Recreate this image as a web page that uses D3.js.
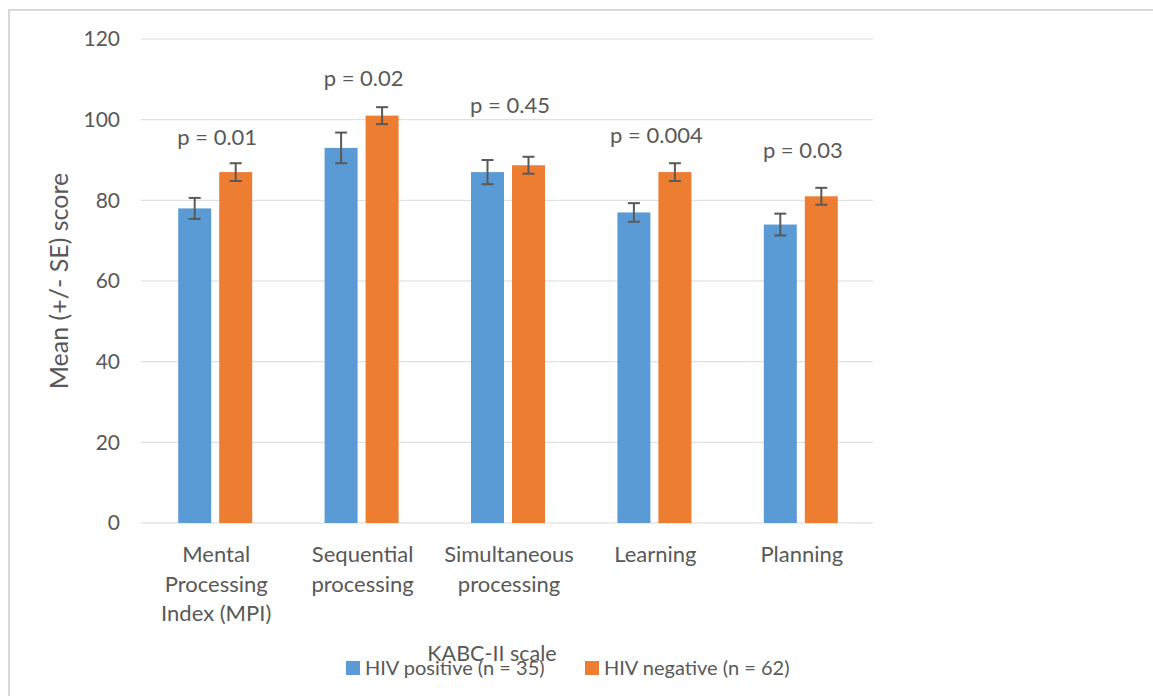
<!DOCTYPE html>
<html>
<head>
<meta charset="utf-8">
<script src="https://cdn.jsdelivr.net/npm/d3@7"></script>
<style>
  html, body { margin: 0; padding: 0; background: #fff; }
  svg { display: block; font-family: Lato, "Open Sans", sans-serif; }
</style>
</head>
<body>
<svg id="chart" width="1153" height="696"></svg>
<script>
const categories = [
  ["Mental", "Processing", "Index (MPI)"],
  ["Sequential", "processing"],
  ["Simultaneous", "processing"],
  ["Learning"],
  ["Planning"]
];
const categoryKeys = ["MPI", "Sequential", "Simultaneous", "Learning", "Planning"];
const seriesNames = ["HIV positive (n = 35)", "HIV negative (n = 62)"];
const hivPositive = [78, 93, 87, 77, 74];
const hivPositiveSE = [2.6, 3.8, 3.0, 2.3, 2.7];
const hivNegative = [87, 101, 88.7, 87, 81];
const hivNegativeSE = [2.2, 2.1, 2.1, 2.2, 2.1];
const pValues = ["p = 0.01", "p = 0.02", "p = 0.45", "p = 0.004", "p = 0.03"];
const pLabelValues = [93.7, 108.4, 101.7, 94.2, 90.5];
const yTicks = [0, 20, 40, 60, 80, 100, 120];
const colors = ["#5b9bd5", "#ed7d31"];

(function () {
const svg = d3.select("#chart");
const textColor = "#595959";

// outer frame
svg.append("rect").attr("x", 9).attr("y", 10).attr("width", 1200).attr("height", 760)
  .attr("fill", "none").attr("stroke", "#d9d9d9").attr("stroke-width", 2);

const pLeft = 141, pRight = 873, pTop = 39, pBottom = 523;
const y = d3.scaleLinear().domain([0, 120]).range([pBottom, pTop]);
const x0 = d3.scaleBand().domain(categoryKeys).range([pLeft, pRight]);
const groupW = 74;
const x1 = d3.scaleBand().domain([0, 1])
  .range([(x0.bandwidth() - groupW) / 2 + 1, (x0.bandwidth() + groupW) / 2 + 1])
  .paddingInner(8 / 41).paddingOuter(0);

// gridlines
svg.append("g").selectAll("line").data(yTicks).join("line")
  .attr("x1", pLeft).attr("x2", pRight)
  .attr("y1", d => y(d)).attr("y2", d => y(d))
  .attr("stroke", "#d9d9d9").attr("stroke-width", 1);

// y axis labels
const yAxis = d3.axisLeft(y).tickValues(yTicks).tickSize(0).tickPadding(0);
const ya = svg.append("g").attr("transform", `translate(${pLeft - 21},0)`).call(yAxis);
ya.select(".domain").remove();
ya.selectAll("text").attr("fill", textColor).attr("font-size", 21)
  .attr("font-family", "Lato, 'Open Sans', sans-serif");

// y title
svg.append("text").attr("transform", `translate(68,${(pTop + pBottom) / 2}) rotate(-90)`)
  .attr("text-anchor", "middle").attr("font-size", 25).attr("fill", textColor)
  .text("Mean (+/- SE) score");

const seriesVals = [hivPositive, hivNegative];
const seriesSE = [hivPositiveSE, hivNegativeSE];

const groups = svg.append("g").selectAll("g").data(categoryKeys).join("g")
  .attr("transform", d => `translate(${x0(d)},0)`);

groups.each(function(key, i) {
  const g = d3.select(this);
  [0, 1].forEach(s => {
    const v = seriesVals[s][i], se = seriesSE[s][i];
    g.append("rect")
      .attr("x", x1(s)).attr("width", x1.bandwidth())
      .attr("y", y(v)).attr("height", y(0) - y(v))
      .attr("fill", colors[s]);
    const cx = x1(s) + x1.bandwidth() / 2;
    const eg = g.append("g").attr("stroke", "#595959").attr("stroke-width", 2);
    eg.append("line").attr("x1", cx).attr("x2", cx).attr("y1", y(v + se)).attr("y2", y(v - se));
    eg.append("line").attr("x1", cx - 6).attr("x2", cx + 6).attr("y1", y(v + se)).attr("y2", y(v + se));
    eg.append("line").attr("x1", cx - 6).attr("x2", cx + 6).attr("y1", y(v - se)).attr("y2", y(v - se));
  });
  // p value label
  g.append("text").attr("x", x0.bandwidth() / 2 + 3).attr("y", y(pLabelValues[i]))
    .attr("text-anchor", "middle").attr("font-size", 22).attr("fill", textColor)
    .text(pValues[i]);
  // category labels
  const t = g.append("text").attr("text-anchor", "middle").attr("font-size", 22).attr("fill", textColor);
  categories[i].forEach((line, k) => {
    t.append("tspan").attr("x", x0.bandwidth() / 2 + 2).attr("y", 562 + k * 29.5).text(line);
  });
});

// x axis title
svg.append("text").attr("x", 492).attr("y", 661).attr("text-anchor", "middle")
  .attr("font-size", 21.5).attr("fill", textColor).text("KABC-II scale");

// legend
const legendX = [346, 585];
const lg = svg.append("g").selectAll("g").data(seriesNames).join("g")
  .attr("transform", (d, i) => `translate(${legendX[i]},661)`);
lg.append("rect").attr("width", 14).attr("height", 14).attr("fill", (d, i) => colors[i]);
lg.append("text").attr("x", 19).attr("y", 14)
  .attr("font-size", 20).attr("fill", textColor).text(d => d);
})();
</script>
</body>
</html>
